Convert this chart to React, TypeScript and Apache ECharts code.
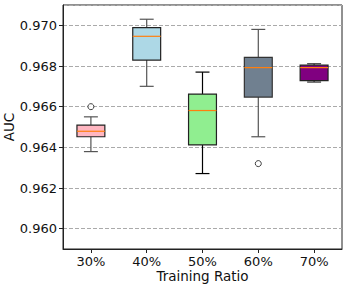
import React, { useEffect, useRef } from "react";
import * as echarts from "echarts";

const categories = ["30%", "40%", "50%", "60%", "70%"];
// [lower whisker, Q1, median, Q3, upper whisker]
const boxValues = [
  [0.96379, 0.96452, 0.96479, 0.96509, 0.9655],
  [0.967, 0.96829, 0.96946, 0.96989, 0.9703],
  [0.96271, 0.96412, 0.96581, 0.96662, 0.9677],
  [0.96452, 0.96647, 0.96792, 0.96842, 0.9698],
  [0.96721, 0.96728, 0.96792, 0.96804, 0.96811],
];
const outliers = [
  [0, 0.966],
  [3, 0.9632],
];
const boxColors = ["#FFB6C1", "#ADD8E6", "#90EE90", "#708090", "#800080"];
const whiskerColors = ["#555555", "#555555", "#000000", "#555555", "#333333"];
const yTicks = [0.96, 0.962, 0.964, 0.966, 0.968, 0.97];

export default function App() {
  const ref = useRef<HTMLDivElement>(null);
  useEffect(() => {
    if (!ref.current) return;
    const chart = echarts.init(ref.current, null, { renderer: "svg" });
    const font = "DejaVu Sans";
    chart.setOption({
      animation: false,
      grid: {
        left: 63,
        right: 5,
        top: 5,
        bottom: 38,
        show: true,
        borderColor: "#222",
        borderWidth: 1,
        backgroundColor: "transparent",
        outerBoundsMode: "none",
        containLabel: false,
      },
      xAxis: {
        type: "category",
        data: categories,
        boundaryGap: true,
        name: "Training Ratio",
        nameLocation: "middle",
        nameGap: 20,
        nameMoveOverlap: false,
        nameTextStyle: { fontFamily: font, fontSize: 13.5, color: "#111" },
        axisLine: { show: true, lineStyle: { color: "#222" } },
        axisTick: { show: true, alignWithLabel: true, length: 4, lineStyle: { color: "#222" } },
        axisLabel: { fontFamily: font, fontSize: 13, color: "#111", margin: 6 },
      },
      yAxis: {
        type: "value",
        min: 0.959,
        max: 0.971,
        splitNumber: 6,
        name: "AUC",
        nameLocation: "middle",
        nameGap: 47,
        nameMoveOverlap: false,
        nameTextStyle: { fontFamily: font, fontSize: 13.5, color: "#111" },
        axisLine: { show: true, lineStyle: { color: "#222" } },
        axisTick: { show: true, length: 4, lineStyle: { color: "#222" } },
        axisLabel: {
          fontFamily: font,
          fontSize: 13,
          color: "#111",
          margin: 6,
          showMinLabel: false,
          showMaxLabel: false,
          formatter: (v: number) =>
            yTicks.some((t) => Math.abs(t - v) < 1e-9) ? v.toFixed(3) : "",
        },
        splitLine: {
          show: true,
          lineStyle: { color: "#aaaaaa", type: [4, 2], width: 1 },
        },
      },
      series: [
        {
          type: "custom",
          data: boxValues.map((b, i) => [i, ...b]),
          renderItem: (params: any, api: any) => {
            const i = api.value(0);
            const lo = api.coord([i, api.value(1)]);
            const q1 = api.coord([i, api.value(2)]);
            const med = api.coord([i, api.value(3)]);
            const q3 = api.coord([i, api.value(4)]);
            const hi = api.coord([i, api.value(5)]);
            const band = api.size([1, 0])[0];
            const bw = band * 0.5;
            const cw = bw * 0.5;
            const cx = lo[0];
            const wc = whiskerColors[i];
            const ws = { stroke: wc, lineWidth: 1.2 };
            return {
              type: "group",
              children: [
                { type: "line", shape: { x1: cx, y1: q3[1], x2: cx, y2: hi[1] }, style: ws },
                { type: "line", shape: { x1: cx, y1: q1[1], x2: cx, y2: lo[1] }, style: ws },
                { type: "line", shape: { x1: cx - cw / 2, y1: hi[1], x2: cx + cw / 2, y2: hi[1] }, style: ws },
                { type: "line", shape: { x1: cx - cw / 2, y1: lo[1], x2: cx + cw / 2, y2: lo[1] }, style: ws },
                {
                  type: "rect",
                  shape: { x: cx - bw / 2, y: q3[1], width: bw, height: q1[1] - q3[1] },
                  style: { fill: boxColors[i], stroke: i === 3 ? "#333" : "#222", lineWidth: 1.2 },
                },
                {
                  type: "line",
                  shape: { x1: cx - bw / 2, y1: med[1], x2: cx + bw / 2, y2: med[1] },
                  style: { stroke: "#ff7f0e", lineWidth: 1.2 },
                },
              ],
            };
          },
          z: 3,
        },
        {
          type: "scatter",
          data: outliers,
          symbol: "circle",
          symbolSize: 6,
          itemStyle: { color: "#ffffff", borderColor: "#111", borderWidth: 1 },
          z: 4,
        },
      ],
    });
    return () => chart.dispose();
  }, []);
  return (
    <div
      ref={ref}
      style={{ position: "absolute", left: 0, top: 0, width: 347, height: 287 }}
    />
  );
}
